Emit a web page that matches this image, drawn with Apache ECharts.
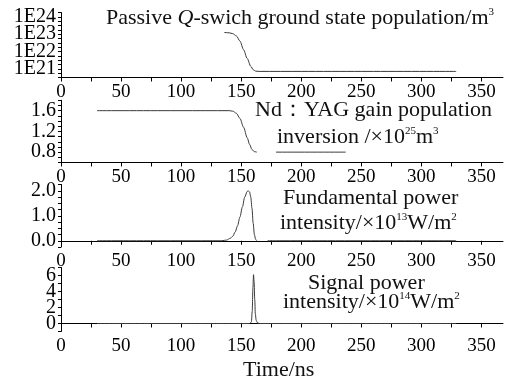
<!DOCTYPE html>
<html>
<head>
<meta charset="utf-8">
<script src="https://cdn.jsdelivr.net/npm/echarts@6/dist/echarts.min.js"></script>
<style>html,body{margin:0;padding:0;background:#fff}#c{width:510px;height:383px}</style>
</head>
<body>
<div id="c"></div>
<script>
// ---- data ----
const xTickValues = [0,25,50,75,100,125,150,175,200,225,250,275,300,325,350];
const xLabelValues = [0,50,100,150,200,250,300,350];

// Panel 1: passive Q-switch ground state population (m^-3), log scale
const groundTime = [136,140,143,146,149,152,155,158,160,162,165,200,250,329];
const groundPop  = [1.26e23,1.2e23,1.07e23,7.9e22,4.0e22,1.26e22,4.0e21,1.4e21,8.9e20,7.4e20,7.1e20,7.1e20,7.1e20,7.1e20];
const groundLabelExp = [21,22,23,24];

// Panel 2: Nd:YAG gain population inversion (x10^25 m^-3)
const gainTime = [30,100,140,143,146,149,152,155,157,159,161,163,null,179,237];
const gainVal  = [1.6,1.6,1.6,1.59,1.55,1.45,1.28,1.08,0.95,0.85,0.81,0.80,null,0.80,0.80];
const gainLabels = [0.8,1.2,1.6];

// Panel 3: fundamental power intensity (x10^13 W/m^2)
const fundTime = [30,100,134,138,141,143,145,147,149,151,153,155,156,157,158,159,160,161,162,163,null,172,329];
const fundVal  = [0,0,0,0.03,0.1,0.18,0.35,0.6,0.95,1.35,1.75,1.97,2.0,1.95,1.75,1.3,0.7,0.25,0.06,0,null,0,0];
const fundLabels = [0,1,2];

// Panel 4: signal power intensity (x10^14 W/m^2)
const sigTime = [30,100,157,158.5,159.2,159.8,160.3,160.8,161.3,161.8,162.5,163.5,165,200,329];
const sigVal  = [0,0,0,0.2,1.5,4.5,6.1,5.2,3.0,1.2,0.4,0.1,0,0,0];
const sigLabels = [0,2,4,6];

// ---- chart ----
const FONT = "'Liberation Serif', 'Times New Roman', serif";
const LINE = '#3a3a3a';
const pairs = (t, v, f) => t.map((x, i) => (x === null ? [null, null] : [x, f ? f(v[i]) : v[i]]));
const range = (a, b, s) => { const r = []; for (let v = a; v <= b + 1e-9; v += s) r.push(Math.round(v * 1000) / 1000); return r; };
const evens = a => a.filter((_, i) => i % 2 === 0);
const odds = a => a.filter((_, i) => i % 2 === 1);

const grids = [
  {left: 61, right: 7, top: 12.5, height: 65},
  {left: 61, right: 7, top: 100.3, height: 62.2},
  {left: 61, right: 7, top: 184.5, height: 62.5},
  {left: 61, right: 7, top: 267.5, height: 64}
];

const xAxes = grids.map((g, i) => ({
  type: 'value', gridIndex: i, min: 0, max: 368,
  axisLine: {lineStyle: {color: '#000', width: 1}},
  axisTick: {length: 4, lineStyle: {color: '#000'}, customValues: xTickValues},
  axisLabel: {customValues: xLabelValues, color: '#000', fontFamily: FONT, fontSize: 19, margin: 5, hideOverlap: false},
  splitLine: {show: false}
}));

const yAxis = (i, min, max, ticks, labels, fmt, withLine) => ({
  type: 'value', gridIndex: i, min: min, max: max, position: 'left',
  axisLine: {show: withLine, onZero: false, lineStyle: {color: '#000', width: 1}},
  axisTick: {show: withLine, length: 3, lineStyle: {color: '#000'}, customValues: ticks},
  axisLabel: {customValues: labels, formatter: fmt, color: '#000', fontFamily: FONT, fontSize: 20,
    margin: 5, hideOverlap: false},
  splitLine: {show: false}
});

const gTicks = range(20.5, 24.25, 0.25), gFmt = v => '1E' + Math.round(v);
const sTicks = range(-1, 7, 1), sFmt = v => String(Math.round(v));
const yAxes = [
  yAxis(0, 20.5, 24.25, gTicks, evens(groundLabelExp), gFmt, true),
  yAxis(1, 0.6, 1.8, range(0.6, 1.8, 0.1), gainLabels, v => v.toFixed(1), true),
  yAxis(2, -0.25, 2.25, range(-0.25, 2.25, 0.25), fundLabels, v => v.toFixed(1), true),
  yAxis(3, -1, 7, sTicks, evens(sigLabels), sFmt, true),
  // second label sets on the same scales (avoid automatic overlap hiding of closely spaced labels)
  yAxis(0, 20.5, 24.25, gTicks, odds(groundLabelExp), gFmt, false),
  yAxis(3, -1, 7, sTicks, odds(sigLabels), sFmt, false)
];

const mk = (i, data) => ({
  type: 'line', xAxisIndex: i, yAxisIndex: i, data: data, showSymbol: false, symbol: 'none',
  smooth: 0.3, smoothMonotone: 'x', connectNulls: false, animation: false,
  lineStyle: {color: LINE, width: 1}
});

const FS = 22;
const base = {fontFamily: FONT, fontSize: FS, color: '#111'};
const rich = {
  i: {fontFamily: FONT, fontSize: FS, fontStyle: 'italic', color: '#111'},
  s: {fontFamily: FONT, fontSize: 11, color: '#111', verticalAlign: 'top', lineHeight: 12}
};
const t = (text, left, cy) => ({
  text: text, left: left, top: cy - 11, padding: 0,
  textStyle: Object.assign({}, base, {fontWeight: 'normal', lineHeight: 22, rich: rich})
});

const titles = [
  t('Passive {i|Q}-swich ground state population/m{s|3}', 106, 18),
  t('Nd：YAG gain population', 255, 110),
  t('inversion /×10{s|25}m{s|3}', 277, 137),
  t('Fundamental power', 283, 198),
  t('intensity/×10{s|13}W/m{s|2}', 280, 223),
  t('Signal power', 308, 283),
  t('intensity/×10{s|14}W/m{s|2}', 283, 302),
  t('Time/ns', 243, 370)
];

const chart = echarts.init(document.getElementById('c'), null, {renderer: 'canvas'});
chart.setOption({
  animation: false,
  backgroundColor: '#fff',
  title: titles,
  grid: grids,
  xAxis: xAxes,
  yAxis: yAxes,
  series: [
    mk(0, pairs(groundTime, groundPop, v => Math.log10(v))),
    mk(1, pairs(gainTime, gainVal)),
    mk(2, pairs(fundTime, fundVal)),
    mk(3, pairs(sigTime, sigVal))
  ]
});
</script>
</body>
</html>
